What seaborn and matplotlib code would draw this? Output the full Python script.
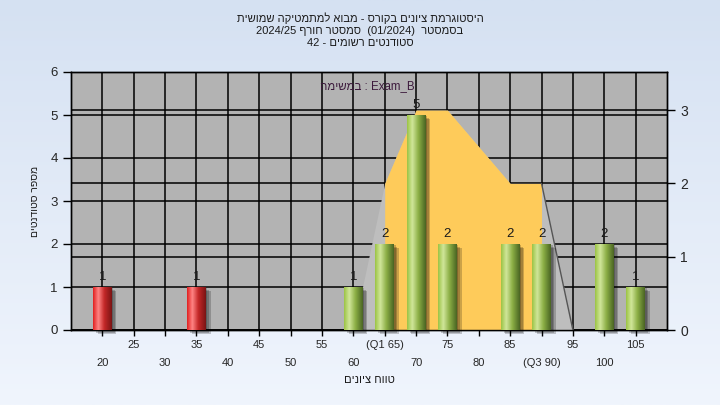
import re
import numpy as np
import pandas as pd
import matplotlib
matplotlib.use("Agg")
import matplotlib.pyplot as plt
import seaborn as sns
from matplotlib.patches import Rectangle
from matplotlib.colors import to_rgb

# --- data ---
grades = [20, 25, 30, 35, 40, 45, 50, 55, 60, 65, 70, 75, 80, 85, 90, 95, 100, 105]
tick_labels = ['20', '25', '30', '35', '40', '45', '50', '55', '60', '(Q1 65)',
               '70', '75', '80', '85', '(Q3 90)', '95', '100', '105']
counts = [1, 0, 0, 1, 0, 0, 0, 0, 1, 2, 5, 2, 0, 2, 2, 0, 2, 1]

# spread band drawn against the right axis
band_grades = [60, 65, 70, 75, 80, 85, 90, 95]
band_values = [0, 2, 3, 3, 2.5, 2, 2, 0]
q1, q3 = 65, 90
pass_mark = 55

title_lines = ['היסטוגרמת ציונים בקורס - מבוא למתמטיקה שמושית',
               'בסמסטר  (01/2024)  סמסטר חורף 2024/25',
               'סטודנטים רשומים - 42']
task_note = 'Exam_B : במשימה'
x_title = 'טווח ציונים'
y_title = 'מספר סטודנטים'


def rtl(s):
    # matplotlib has no bidi support: put the string in visual order
    s = s[::-1]
    s = re.sub(r'[0-9A-Za-z_/.]+', lambda m: m.group(0)[::-1], s)
    return s.translate(str.maketrans('()', ')('))


sns.set_theme(style="white")
plt.rcParams['font.family'] = ['Liberation Sans', 'DejaVu Sans']

fig = plt.figure(figsize=(7.2, 4.05), dpi=100)

# background gradient
bg = fig.add_axes([0, 0, 1, 1], zorder=-10)
top = np.array(to_rgb('#d5e1f2'))
bottom = np.array(to_rgb('#f0f5fd'))
t = np.linspace(0, 1, 256)[:, None, None]
bg.imshow(top + (bottom - top) * t, aspect='auto', extent=[0, 1, 0, 1])
bg.axis('off')

rect = [71 / 720, 75 / 405, 596 / 720, 258 / 405]
ax = fig.add_axes(rect)
ax2 = ax.twinx()
ax2.set_zorder(ax.get_zorder() - 1)
ax2.patch.set_visible(True)
ax2.set_facecolor('#b3b3b3')
ax.patch.set_visible(False)

df = pd.DataFrame({'label': tick_labels, 'count': counts, 'grade': grades})
df['kind'] = np.where(df['grade'] < pass_mark, 'fail', 'pass')
sns.barplot(data=df, x='label', y='count', hue='kind', order=tick_labels,
            palette={'fail': '#d42a2a', 'pass': '#93b948'}, width=0.6,
            dodge=False, legend=False, ax=ax, zorder=4, linewidth=0)

# band areas (right-axis scale)
ax2.set_ylim(0, 3.52)
bx = [grades.index(g) for g in band_grades]
ax.fill_between(bx, band_values, color='#bebebe', lw=0, zorder=2,
                transform=ax2.transData)
inner = [(x, v) for x, g, v in zip(bx, band_grades, band_values) if q1 <= g <= q3]
ax.fill_between([p[0] for p in inner], [p[1] for p in inner], color='#fecb5a',
                lw=0, zorder=2.5, transform=ax2.transData)
ax.plot(bx[-2:], band_values[-2:], color='#555555', lw=1, zorder=2.6,
        transform=ax2.transData)

# cylinder look for the bars
stops = [0, 0.28, 0.6, 1]
ramp_cols = {'pass': ['#9cc445', '#d0e69a', '#8db046', '#4a6523'],
             'fail': ['#e02020', '#ff8585', '#c42828', '#7a1414']}
xs = np.linspace(0, 1, 60)
ramps = {}
for k, cols in ramp_cols.items():
    rgb = np.array([to_rgb(c) for c in cols])
    ramps[k] = np.stack([np.interp(xs, stops, rgb[:, j]) for j in range(3)], axis=-1)[None, :, :]

for bar in list(ax.patches):
    h = bar.get_height()
    if h <= 0:
        continue
    x0, w = bar.get_x(), bar.get_width()
    i = int(round(x0 + w / 2))
    kind = 'fail' if grades[i] < pass_mark else 'pass'
    for k in range(3):
        ax.add_patch(Rectangle((x0 + 0.05 * (k + 1), -0.03 * (k + 1)), w, h,
                               color='black', alpha=0.2, lw=0, zorder=3,
                               clip_on=False))
    ax.imshow(ramps[kind], extent=[x0, x0 + w, 0, h], aspect='auto',
              zorder=4.5, interpolation='bilinear')

for cont in ax.containers:
    labs = [str(int(b.get_height())) if b.get_height() > 0 else '' for b in cont]
    for a in ax.bar_label(cont, labels=labs, padding=3, fontsize=9.5, color='#1a1a1a'):
        a.set_zorder(6)

# axes, grids, ticks
ax.set_xlim(-1, len(grades))
ax.set_ylim(0, 6)
ax.set_yticks(range(0, 7))
ax2.set_yticks(range(0, 4))
ax.set_axisbelow(True)
ax.grid(True, color='black', lw=1.1)
ax2.yaxis.grid(True, color='black', lw=1.1)
ax2.xaxis.grid(False)
ax.set_xticks(range(len(grades)))
ax.set_xticklabels(tick_labels, fontsize=8)
for k, tk in enumerate(ax.xaxis.get_major_ticks()):
    tk.set_pad(16 if k % 2 == 0 else 3)
ax.tick_params(axis='x', bottom=True, length=4, width=1, color='black')
ax.tick_params(axis='y', left=True, length=6, width=1, color='black', labelsize=9.5)
ax2.tick_params(axis='y', right=True, length=6, width=1, color='black', labelsize=10)
ax.set_xlabel('')
ax.set_ylabel('')
for a in (ax, ax2):
    for sp in a.spines.values():
        sp.set_color('black')
        sp.set_linewidth(1)

ax.text(0.498, 0.946, rtl(task_note), transform=ax.transAxes, ha='center',
        va='center', fontsize=8.3, color='#3c1a3c', zorder=7)

# titles
for line, ypx in zip(title_lines, [18, 31, 43]):
    fig.text(0.5, 1 - ypx / 405, rtl(line), ha='center', va='center',
             fontsize=8, color='#1a1a1a')
fig.text(369 / 720, 1 - 380 / 405, rtl(x_title), ha='center', va='center',
         fontsize=8, color='#1a1a1a')
fig.text(35 / 720, 1 - 201 / 405, rtl(y_title), ha='center', va='center',
         rotation=90, fontsize=7.5, color='#1a1a1a')

fig.savefig('out.png', dpi=100)
